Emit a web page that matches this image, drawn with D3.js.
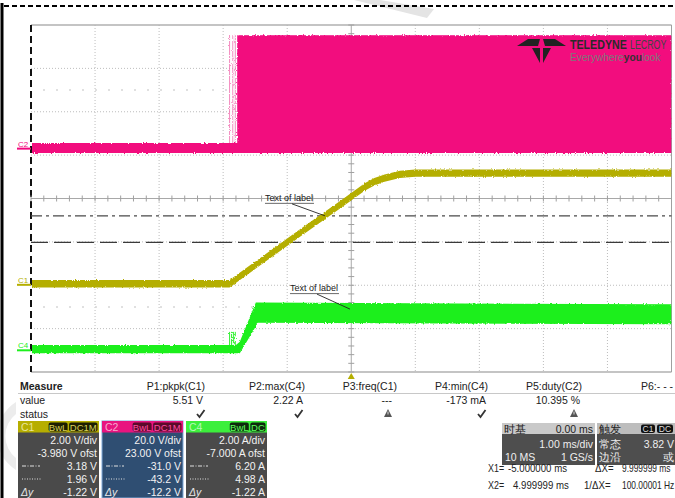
<!DOCTYPE html>
<html>
<head>
<meta charset="utf-8">
<script src="https://cdn.jsdelivr.net/npm/d3@7"></script>
<style>
  body { margin: 0; background: #fff; }
  svg { display: block; font-family: "Liberation Sans", Arial, sans-serif; }
</style>
</head>
<body>
<svg id="scope" width="675" height="498"></svg>
<script>
// ---------- acquisition settings ----------
const timeDomain = [-5, 5];            // ms, 1.00 ms/div, 10 divisions
const channelNames = ["C1", "C2", "C4"];
const voltsPerDiv = [2, 20, 2];        // C1 V/div, C2 V/div, C4 A/div
const channelOffsets = [-3.98, 23, -7]; // screen centre = -offset

// ---------- C1 : output voltage (V) ----------
const c1Times  = [-5, -1.90, -0.80, -0.18, 0.21, 0.36, 0.52, 0.76, 1.00, 5];
const c1Values = [0.05, 0.05, 2.39, 3.68, 4.51, 4.75, 4.92, 5.09, 5.15, 5.15];
const c1Ripple = 0.17;

// ---------- C2 : switch node (V) ----------
const c2Times = [-5, -1.78, -1.78, 5];
const c2Low   = [-2.0, -2.0, -2.0, -2.0];
const c2High  = [2.6, 2.6, 52.3, 52.3];
const c2EarlyEdges = [-1.90, -1.85, -1.81];

// ---------- C4 : inductor current (A) ----------
const c4Times = [-5, -1.80, -1.74, -1.49, -1.46, 5];
const c4Low   = [-0.13, -0.13, -0.13, 1.10, 1.27, 1.20];
const c4High  = [0.24, 0.24, 0.40, 2.20, 2.20, 2.12];
const c4Spikes = [-1.90, -1.87, -1.84, -1.81];
const c4SpikeTop = 0.85;

// ---------- cursors (same screen levels on each channel) ----------
const c1Cursors = [3.18, 1.96];

// ---------- annotations ----------
const labelChannels = ["C1", "C4"];
const labelTimes = [-0.41, -0.02];
const labelValues = [3.18, 1.90];
const labelTexts = ["Text of label", "Text of label"];

// ---------- measurement table ----------
const measureNames  = ["P1:pkpk(C1)", "P2:max(C4)", "P3:freq(C1)", "P4:min(C4)", "P5:duty(C2)", "P6:- - -"];
const measureValues = ["5.51 V", "2.22 A", "---", "-173 mA", "10.395 %", ""];
const measureStatus = ["ok", "ok", "warn", "ok", "warn", ""];

// ---------- channel descriptor boxes ----------
const channelCoupling = [["BwL", "DC1M"], ["BwL", "DC1M"], ["BwL", "DC"]];
const channelScaleText = ["2.00 V/div", "20.0 V/div", "2.00 A/div"];
const channelOffsetText = ["-3.980 V ofst", "23.00 V ofst", "-7.000 A ofst"];
const cursorAText = ["3.18 V", "-31.0 V", "6.20 A"];
const cursorBText = ["1.96 V", "-43.2 V", "4.98 A"];
const cursorDeltaText = ["-1.22 V", "-12.2 V", "-1.22 A"];

// ---------- timebase / trigger / cursor readout ----------
const timebaseText = ["时基", "0.00 ms", "1.00 ms/div", "10 MS", "1 GS/s"];
const triggerText = ["触发", "C1", "DC", "常态", "3.82 V", "边沿", "或"];
const cursorReadout = [["X1=", "-5.000000 ms", "ΔX=", "9.999999 ms"],
                       ["X2=", "4.999999 ms", "1/ΔX=", "100.00001 Hz"]];

// ================= drawing =================
const svg = d3.select("#scope");
const colors = { C1: "#b4ae00", C2: "#f2077e", C4: "#1def1d" };

const plot = { left: 31, right: 671.5, top: 25, bottom: 372 };
const x = d3.scaleLinear().domain(timeDomain).range([plot.left, plot.right]);
const yScales = {};
channelNames.forEach((name, i) => {
  const centre = -channelOffsets[i];
  yScales[name] = d3.scaleLinear()
    .domain([centre - 4 * voltsPerDiv[i], centre + 4 * voltsPerDiv[i]])
    .range([plot.bottom, plot.top]);
});
const yDiv = d3.scaleLinear().domain([-4, 4]).range([plot.bottom, plot.top]);

// faint watermark strokes
svg.append("path").attr("d", "M354,0 L380,0 L434,9 L427,18 Z").attr("fill", "#e4e4e4");
svg.append("path").attr("d", "M16,402 A40,40 0 0,0 16,470 L16,458 A28,28 0 0,1 16,414 Z").attr("fill", "#ececec");

// outer frame: dashed top rule and heavy left rule
svg.append("line").attr("x1", 4).attr("x2", 675).attr("y1", 6).attr("y2", 6)
  .attr("stroke", "#000").attr("stroke-width", 2).attr("stroke-dasharray", "5,3");
svg.append("line").attr("x1", 2).attr("x2", 2).attr("y1", 3).attr("y2", 498)
  .attr("stroke", "#000").attr("stroke-width", 3);

// ---------- graticule ----------
const grid = svg.append("g");
d3.range(1, 10).filter(d => d !== 5).forEach(d => {
  const gx = x(timeDomain[0] + d);
  grid.append("line").attr("x1", gx).attr("x2", gx).attr("y1", plot.top).attr("y2", plot.bottom)
    .attr("stroke", "#bdbdbd").attr("stroke-width", 1).attr("stroke-dasharray", "1,2");
});
d3.range(-3, 4).filter(d => d !== 0).forEach(d => {
  grid.append("line").attr("x1", plot.left).attr("x2", plot.right).attr("y1", yDiv(d)).attr("y2", yDiv(d))
    .attr("stroke", "#bdbdbd").attr("stroke-width", 1).attr("stroke-dasharray", "1,2");
});
[2.5, -2.5].forEach(d => {
  grid.append("line").attr("x1", plot.left + 12).attr("x2", plot.right).attr("y1", yDiv(d)).attr("y2", yDiv(d))
    .attr("stroke", "#d6d6d6").attr("stroke-width", 1.5).attr("stroke-dasharray", "2,11");
});
// borders
grid.append("line").attr("x1", plot.left).attr("x2", plot.right).attr("y1", plot.top).attr("y2", plot.top)
  .attr("stroke", "#b0b0b0").attr("stroke-width", 1.5);
grid.append("line").attr("x1", plot.left).attr("x2", plot.right).attr("y1", plot.bottom).attr("y2", plot.bottom)
  .attr("stroke", "#b0b0b0").attr("stroke-width", 1.5);
grid.append("line").attr("x1", plot.right).attr("x2", plot.right).attr("y1", plot.top).attr("y2", plot.bottom)
  .attr("stroke", "#a0a0a0").attr("stroke-width", 1);
grid.append("line").attr("x1", plot.left).attr("x2", plot.left).attr("y1", plot.top).attr("y2", plot.bottom)
  .attr("stroke", "#111").attr("stroke-width", 2).attr("stroke-dasharray", "7,4");
// centre axes with minor ticks
const cx = x(0), cy = yDiv(0);
grid.append("line").attr("x1", plot.left).attr("x2", plot.right).attr("y1", cy).attr("y2", cy)
  .attr("stroke", "#a8a8a8").attr("stroke-width", 1);
grid.append("line").attr("x1", cx).attr("x2", cx).attr("y1", plot.top).attr("y2", plot.bottom)
  .attr("stroke", "#a8a8a8").attr("stroke-width", 1);
d3.range(-5, 5.001, 0.2).forEach(t => {
  grid.append("line").attr("x1", x(t)).attr("x2", x(t)).attr("y1", cy - 3).attr("y2", cy + 3)
    .attr("stroke", "#a0a0a0").attr("stroke-width", 1);
});
d3.range(-4, 4.001, 0.2).forEach(d => {
  grid.append("line").attr("x1", cx - 3).attr("x2", cx + 3).attr("y1", yDiv(d)).attr("y2", yDiv(d))
    .attr("stroke", "#a0a0a0").attr("stroke-width", 1);
});

// ---------- cursors ----------
const yc1 = yScales.C1;
svg.append("line").attr("x1", plot.left).attr("x2", plot.right)
  .attr("y1", yc1(c1Cursors[0])).attr("y2", yc1(c1Cursors[0]))
  .attr("stroke", "#4a4a4a").attr("stroke-width", 1.3).attr("stroke-dasharray", "11,4,3,4");
svg.append("line").attr("x1", plot.left).attr("x2", plot.right)
  .attr("y1", yc1(c1Cursors[1])).attr("y2", yc1(c1Cursors[1]))
  .attr("stroke", "#3a3a3a").attr("stroke-width", 1.3).attr("stroke-dasharray", "17,6");

// ---------- traces ----------
const defs = svg.append("defs");
defs.append("clipPath").attr("id", "plotClip").append("rect")
  .attr("x", plot.left + 1).attr("y", plot.top).attr("width", plot.right - plot.left - 1).attr("height", plot.bottom - plot.top);
const rough = defs.append("filter").attr("id", "rough").attr("x", "-2%").attr("y", "-10%").attr("width", "104%").attr("height", "120%");
rough.append("feTurbulence").attr("type", "fractalNoise").attr("baseFrequency", "0.9 0.6").attr("numOctaves", 1).attr("seed", 3).attr("result", "n");
rough.append("feDisplacementMap").attr("in", "SourceGraphic").attr("in2", "n").attr("scale", 3)
  .attr("xChannelSelector", "R").attr("yChannelSelector", "G");

const traces = svg.append("g").attr("clip-path", "url(#plotClip)");
const tg = traces.append("g").attr("filter", "url(#rough)");

// C2 switching waveform envelope
const yc2 = yScales.C2;
c2EarlyEdges.forEach(t => {
  tg.append("line").attr("x1", x(t)).attr("x2", x(t)).attr("y1", yc2(c2Low[0])).attr("y2", yc2(c2High[3]))
    .attr("stroke", "#f070b0").attr("stroke-width", 0.8);
});
tg.append("path")
  .datum(c2Times.map((t, i) => [t, c2Low[i], c2High[i]]))
  .attr("fill", colors.C2)
  .attr("d", d3.area().x(d => x(d[0])).y0(d => yc2(d[1])).y1(d => yc2(d[2])));

// C1 ramp with ripple band
tg.append("path")
  .datum(c1Times.map((t, i) => [t, c1Values[i]]))
  .attr("fill", colors.C1)
  .attr("d", d3.area().x(d => x(d[0])).y0(d => yc1(d[1] - c1Ripple)).y1(d => yc1(d[1] + c1Ripple)));

// C4 current
const yc4 = yScales.C4;
c4Spikes.forEach(t => {
  tg.append("line").attr("x1", x(t)).attr("x2", x(t)).attr("y1", yc4(0)).attr("y2", yc4(c4SpikeTop))
    .attr("stroke", colors.C4).attr("stroke-width", 0.9);
});
tg.append("path")
  .datum(c4Times.map((t, i) => [t, c4Low[i], c4High[i]]))
  .attr("fill", colors.C4)
  .attr("d", d3.area().x(d => x(d[0])).y0(d => yc4(d[1])).y1(d => yc4(d[2])));

// channel ground markers
channelNames.forEach(name => {
  const gy = yScales[name](0);
  svg.append("line").attr("x1", 17).attr("x2", 31).attr("y1", gy).attr("y2", gy)
    .attr("stroke", colors[name]).attr("stroke-width", 2);
  svg.append("text").attr("x", 18).attr("y", gy - 2).attr("font-size", 8)
    .attr("fill", colors[name]).text(name);
});

// trigger position marker
svg.append("path").attr("d", `M${x(0)},${plot.bottom + 1} l-3.5,6 l7,0 Z`).attr("fill", colors.C1);

// annotations with leader lines
labelTexts.forEach((txt, i) => {
  const ax = x(labelTimes[i]), ay = yScales[labelChannels[i]](labelValues[i]);
  const tx = ax - 60, ty = ay - 15 - (i ? 3 : 0);
  svg.append("text").attr("x", tx).attr("y", ty).attr("font-size", 9).attr("fill", "#222").text(txt);
  svg.append("line").attr("x1", tx).attr("x2", tx + 49).attr("y1", ty + 2.5).attr("y2", ty + 2.5)
    .attr("stroke", "#444").attr("stroke-width", 0.8);
  svg.append("line").attr("x1", tx + 27).attr("x2", ax).attr("y1", ty + 3).attr("y2", ay)
    .attr("stroke", "#222").attr("stroke-width", 0.9);
});

// ---------- logo ----------
const logo = svg.append("g");
logo.append("path").attr("d", "M517,46 L528,39 L540,39 L538,46 Z").attr("fill", "#222");
logo.append("path").attr("d", "M566,46 L555,39 L543,39 L545,46 Z").attr("fill", "#222");
logo.append("path").attr("d", "M532,48 L540,48 L540,63 Z").attr("fill", "#222");
logo.append("path").attr("d", "M551,48 L543,48 L543,63 Z").attr("fill", "#222");
logo.append("text").attr("transform", "translate(570,48.5) scale(0.82,1)")
  .attr("font-size", 13).attr("font-weight", "bold").attr("fill", "#2a2a2a").text("TELEDYNE");
logo.append("text").attr("transform", "translate(630,48.5) scale(0.68,1)")
  .attr("font-size", 13).attr("fill", "#444").text("LECROY");
const tag = logo.append("text").attr("x", 570).attr("y", 61).attr("font-size", 10.2).attr("fill", "#7a7a7a");
tag.append("tspan").text("Everywhere");
tag.append("tspan").attr("font-weight", "bold").attr("fill", "#333").text("you");
tag.append("tspan").text("look");

// ---------- measurement table ----------
const mt = svg.append("g").attr("font-size", 10.5).attr("fill", "#222");
mt.append("text").attr("x", 20).attr("y", 390).attr("font-weight", "bold").text("Measure");
mt.append("text").attr("x", 20).attr("y", 404).text("value");
mt.append("text").attr("x", 20).attr("y", 418).text("status");
svg.append("line").attr("x1", 18).attr("x2", 675).attr("y1", 393.5).attr("y2", 393.5)
  .attr("stroke", "#c8c8c8").attr("stroke-width", 1);
const colRight = [205, 305, 397, 488, 582, 680];
const statusX = [201, 299, 388, 482, 574];
measureNames.forEach((n, i) => {
  mt.append("text").attr("x", i === 5 ? 641 : colRight[i]).attr("y", 390)
    .attr("text-anchor", i === 5 ? "start" : "end").text(n);
  if (measureValues[i]) {
    mt.append("text").attr("x", i === 2 ? 392 : colRight[i] - 2).attr("y", 404)
      .attr("text-anchor", "end").text(measureValues[i]);
  }
  if (measureStatus[i] === "ok") {
    mt.append("path").attr("d", `M${statusX[i] - 4},${414} l2.5,3 l5,-7`)
      .attr("fill", "none").attr("stroke", "#333").attr("stroke-width", 1.8);
  } else if (measureStatus[i] === "warn") {
    mt.append("path").attr("d", `M${statusX[i]},${409} l4,8 l-8,0 Z`).attr("fill", "#555");
    mt.append("path").attr("d", `M${statusX[i]},${411.5} l0,3`).attr("stroke", "#ddd").attr("stroke-width", 1);
  }
});

// ---------- channel descriptor boxes ----------
const boxX = [18, 102, 186];
const boxW = 81;
const headBg = ["#b6ae00", "#e8147f", "#3cef3c"];
const headFg = ["#e8e49a", "#f7a8cf", "#b8f8b8"];
const badgeBg = ["#1e1e00", "#5a0a2a", "#0c2a0c"];
const badgeFg = ["#d8d25a", "#ff4aa0", "#5cff5c"];
const bodyBg = ["#4a4a4a", "#2f4e72", "#4a4a4a"];
channelNames.forEach((name, i) => {
  const bx = boxX[i];
  const g = svg.append("g").attr("font-size", 10.5);
  g.append("rect").attr("x", bx).attr("y", 421).attr("width", boxW).attr("height", 77).attr("fill", bodyBg[i])
    .attr("stroke", i === 1 ? "#7fa8d8" : "none").attr("stroke-width", 1);
  g.append("rect").attr("x", bx).attr("y", 421).attr("width", boxW).attr("height", 11.5).attr("fill", headBg[i]);
  g.append("text").attr("x", bx + 3).attr("y", 430.5).attr("fill", headFg[i]).text(name);
  const [b1, b2] = channelCoupling[i];
  const w2 = b2.length * 6.6 + 2, w1 = 19;
  const x2 = bx + boxW - 1.5 - w2, x1 = x2 - 1.5 - w1;
  g.append("rect").attr("x", x1).attr("y", 422.5).attr("width", w1).attr("height", 9).attr("rx", 2).attr("fill", badgeBg[i]);
  g.append("rect").attr("x", x2).attr("y", 422.5).attr("width", w2).attr("height", 9).attr("rx", 2).attr("fill", badgeBg[i]);
  g.append("text").attr("x", x1 + w1 / 2).attr("y", 430.5).attr("text-anchor", "middle").attr("font-size", 9.5).attr("fill", badgeFg[i]).text(b1);
  g.append("text").attr("x", x2 + w2 / 2).attr("y", 430.5).attr("text-anchor", "middle").attr("font-size", 9.5).attr("fill", badgeFg[i]).text(b2);
  const rows = [channelScaleText[i], channelOffsetText[i], cursorAText[i], cursorBText[i], cursorDeltaText[i]];
  rows.forEach((r, k) => {
    g.append("text").attr("x", bx + boxW - 2).attr("y", 443.5 + k * 13).attr("text-anchor", "end")
      .attr("fill", "#f2f2f2").text(r);
  });
  g.append("line").attr("x1", bx + 4).attr("x2", bx + 22).attr("y1", 466).attr("y2", 466)
    .attr("stroke", "#e0e0e0").attr("stroke-width", 1).attr("stroke-dasharray", "4,1.5,1,1.5");
  g.append("line").attr("x1", bx + 4).attr("x2", bx + 24).attr("y1", 479).attr("y2", 479)
    .attr("stroke", "#e0e0e0").attr("stroke-width", 1).attr("stroke-dasharray", "1,1.5");
  g.append("text").attr("x", bx + 3).attr("y", 495.5).attr("font-style", "italic").attr("fill", "#e8e8e8").text("Δy");
});

// ---------- timebase & trigger ----------
const tb = svg.append("g").attr("font-size", 10.5);
tb.append("rect").attr("x", 502).attr("y", 423).attr("width", 93).attr("height", 42).attr("fill", "#4e4e4e");
tb.append("rect").attr("x", 502).attr("y", 423).attr("width", 93).attr("height", 11).attr("fill", "#c9c9c9");
tb.append("text").attr("x", 504).attr("y", 432.5).attr("fill", "#222").text(timebaseText[0]);
tb.append("text").attr("x", 593).attr("y", 432.5).attr("text-anchor", "end").attr("fill", "#222").text(timebaseText[1]);
tb.append("text").attr("x", 593).attr("y", 447.5).attr("text-anchor", "end").attr("fill", "#eee").text(timebaseText[2]);
tb.append("text").attr("x", 505).attr("y", 461).attr("fill", "#eee").text(timebaseText[3]);
tb.append("text").attr("x", 593).attr("y", 461).attr("text-anchor", "end").attr("fill", "#eee").text(timebaseText[4]);

tb.append("rect").attr("x", 597).attr("y", 423).attr("width", 78).attr("height", 42).attr("fill", "#4e4e4e");
tb.append("rect").attr("x", 597).attr("y", 423).attr("width", 78).attr("height", 11).attr("fill", "#bdbdbd");
tb.append("text").attr("x", 599).attr("y", 432.5).attr("fill", "#222").text(triggerText[0]);
tb.append("rect").attr("x", 641).attr("y", 424.5).attr("width", 14).attr("height", 8.5).attr("rx", 2).attr("fill", "#111");
tb.append("rect").attr("x", 657).attr("y", 424.5).attr("width", 16).attr("height", 8.5).attr("rx", 2).attr("fill", "#111");
tb.append("text").attr("x", 648).attr("y", 432).attr("text-anchor", "middle").attr("font-size", 8.5).attr("fill", "#ddd").text(triggerText[1]);
tb.append("text").attr("x", 665).attr("y", 432).attr("text-anchor", "middle").attr("font-size", 8.5).attr("fill", "#ddd").text(triggerText[2]);
tb.append("text").attr("x", 599).attr("y", 447.5).attr("fill", "#eee").text(triggerText[3]);
tb.append("text").attr("x", 674).attr("y", 447.5).attr("text-anchor", "end").attr("fill", "#eee").text(triggerText[4]);
tb.append("text").attr("x", 599).attr("y", 461).attr("fill", "#eee").text(triggerText[5]);
tb.append("text").attr("x", 674).attr("y", 461).attr("text-anchor", "end").attr("fill", "#eee").text(triggerText[6]);

// cursor readout (narrowed horizontally to fit the panel)
const cr = svg.append("g").attr("font-size", 10.5).attr("fill", "#222");
const readX = [[488, 508, 595, 622], [488, 513, 584, 622]];
cursorReadout.forEach((row, k) => {
  const yy = 472 + k * 17;
  row.forEach((s, j) => {
    const sx = j === 3 ? 0.8 : (j === 0 ? 0.85 : 0.92);
    cr.append("text").attr("transform", `translate(${readX[k][j]},${yy}) scale(${sx},1)`).text(s);
  });
});
</script>
</body>
</html>
